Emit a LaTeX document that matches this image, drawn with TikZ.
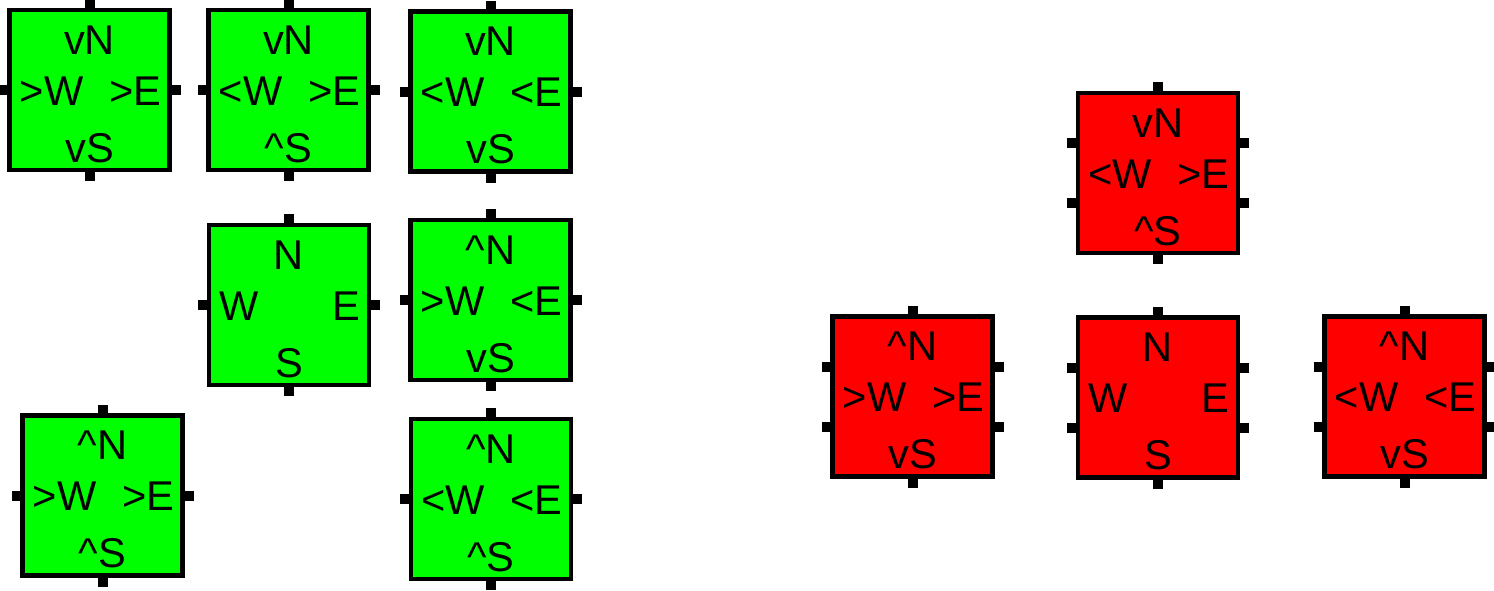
\documentclass[tikz,border=0pt]{standalone}
\usepackage{fontspec}
\setmainfont{Liberation Sans}
\usetikzlibrary{calc}
\definecolor{boxgreen}{RGB}{0,255,0}
\definecolor{boxred}{RGB}{255,0,0}
\tikzset{
  blk/.style={draw=black, line width=2.4pt, minimum width=80pt, minimum height=80pt, inner sep=0pt, outer sep=0pt},
  gblk/.style={blk, fill=boxgreen},
  rblk/.style={blk, fill=boxred},
  lbl/.style={font=\fontsize{20.8}{24}\selectfont, inner sep=0pt},
  stub/.style={fill=black},
}
% labels: name, N, W, E, S
\newcommand\blklabels[5]{%
  \node[lbl, anchor=base] (#1-n) at ($(#1.center)+(0,-36)$) {#2};
  \node[lbl, anchor=base west] (#1-w) at ($(#1.center)+(-70,15)$) {#3};
  \node[lbl, anchor=base east] (#1-e) at ($(#1.center)+(72,15)$) {#4};
  \node[lbl, anchor=base] (#1-s) at ($(#1.center)+(0,72)$) {#5};
}
\newcommand\stubNS[1]{%
  \fill[stub] ($(#1.north)+(-5,-11)$) rectangle ($(#1.north)+(5,0)$);
  \fill[stub] ($(#1.south)+(-5,0)$) rectangle ($(#1.south)+(5,11)$);
}
\newcommand\greenstubs[1]{%
  \stubNS{#1}
  \fill[stub] ($(#1.west)+(-11,-5)$) rectangle ($(#1.west)+(0,5)$);
  \fill[stub] ($(#1.east)+(0,-5)$) rectangle ($(#1.east)+(11,5)$);
}
\newcommand\redstubs[1]{%
  \stubNS{#1}
  \fill[stub] ($(#1.west)+(-11,-35)$) rectangle ($(#1.west)+(0,-25)$);
  \fill[stub] ($(#1.west)+(-11,25)$) rectangle ($(#1.west)+(0,35)$);
  \fill[stub] ($(#1.east)+(0,-35)$) rectangle ($(#1.east)+(11,-25)$);
  \fill[stub] ($(#1.east)+(0,25)$) rectangle ($(#1.east)+(11,35)$);
}
\begin{document}
\begin{tikzpicture}[x=0.5pt, y=-0.5pt]
\useasboundingbox (0,0) rectangle (1494,590);
% green blocks
\node[gblk] (g1) at (89.5,90) {};
\node[gblk] (g2) at (288.5,90) {};
\node[gblk] (g3) at (490.5,91.5) {};
\node[gblk] (g4) at (289,305) {};
\node[gblk] (g5) at (490.5,300) {};
\node[gblk] (g6) at (102.5,495.5) {};
\node[gblk] (g7) at (491,499) {};
% red blocks
\node[rblk] (r1) at (1158,173) {};
\node[rblk] (r2) at (912.5,396.5) {};
\node[rblk] (r3) at (1158,397.5) {};
\node[rblk] (r4) at (1404.5,396.5) {};
\foreach \b in {g1,g2,g3,g4,g5,g6,g7} {\greenstubs{\b}}
\foreach \b in {r1,r2,r3,r4} {\redstubs{\b}}
\blklabels{g1}{vN}{>W}{>E}{vS}
\blklabels{g2}{vN}{<W}{>E}{\textasciicircum S}
\blklabels{g3}{vN}{<W}{<E}{vS}
\blklabels{g4}{N}{W}{E}{S}
\blklabels{g5}{\textasciicircum N}{>W}{<E}{vS}
\blklabels{g6}{\textasciicircum N}{>W}{>E}{\textasciicircum S}
\blklabels{g7}{\textasciicircum N}{<W}{<E}{\textasciicircum S}
\blklabels{r1}{vN}{<W}{>E}{\textasciicircum S}
\blklabels{r2}{\textasciicircum N}{>W}{>E}{vS}
\blklabels{r3}{N}{W}{E}{S}
\blklabels{r4}{\textasciicircum N}{<W}{<E}{vS}
\end{tikzpicture}
\end{document}
